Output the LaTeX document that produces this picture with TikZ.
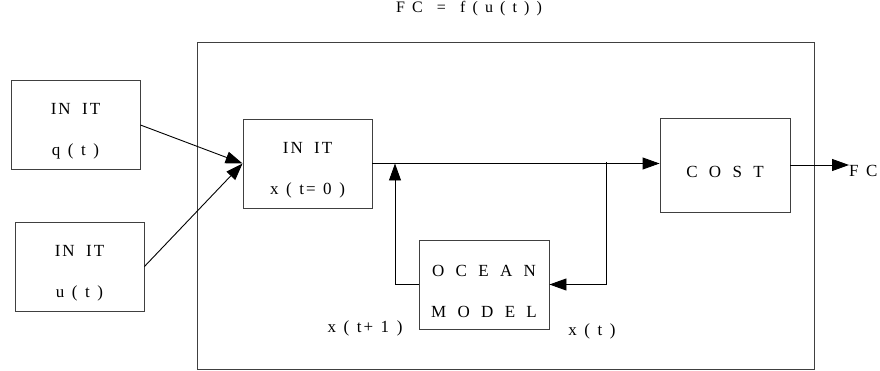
\documentclass[tikz,border=0pt]{standalone}
\usepackage{fontspec}
\setmainfont{Liberation Serif}[LetterSpace=12, WordSpace=1.2]
\newfontfamily\capsfont{Liberation Serif}[LetterSpace=12, WordSpace=1.8]
\usetikzlibrary{arrows.meta}
\tikzset{
  blk/.style={rectangle, draw=black!75, line width=0.9pt,
              minimum width=129pt, minimum height=89pt,
              align=center, inner sep=0pt,
              font=\fontsize{17}{41}\selectfont},
  capblk/.style={blk, font=\fontsize{17}{41}\capsfont},
  lbl/.style={inner sep=0pt, font=\fontsize{17}{20}\selectfont},
  arr/.style={-{Triangle[length=17pt, width=12pt]}, line width=0.9pt},
}
\newcommand{\lift}{\rule{0pt}{24.5pt}}

\begin{document}
\begin{tikzpicture}[x=1pt, y=-1pt]
  \useasboundingbox (0,0) rectangle (880,371);

  \node[lbl, font=\fontsize{16}{20}\selectfont] (title) at (469,9) {F C~~=~~f ( u ( t ) )};
  \node[blk, minimum width=617pt, minimum height=327pt] (frame) at (505.5,205.5) {};

  \node[blk] (initq) at (75.5,125) {\lift{\capsfont IN IT}\\q ( t )};
  \node[blk] (initu) at (79.5,266.5) {\lift{\capsfont IN IT}\\u ( t )};
  \node[blk] (initx) at (307.5,163.5) {\lift{\capsfont IN IT}\\x ( t= 0 )};
  \node[capblk, minimum width=130pt, minimum height=94pt] (cost) at (725,165) {\lift C O S T};
  \node[capblk, minimum width=130pt] (ocean) at (484,284.5) {\lift O C E A N\\M O D E L};

  \node[lbl] (xnext) at (365,328) {x ( t+ 1 )};
  \node[lbl] (xnow) at (592,331) {x ( t )};
  \node[lbl, anchor=west] (fc) at (849,171) {F C};

  \coordinate (tap) at (606,162);
  \coordinate (join) at (395,163.5);

  \draw[arr] (initq.east) -- (initx.west);
  \draw[arr] (initu.east) -- (initx.west);
  \draw[arr] (initx.east) -- (cost.west |- initx.east);
  \draw[arr] (tap) |- (ocean.east);
  \draw[arr] (ocean.west) -| (join);
  \draw[arr] (cost.east) -- (fc.west |- cost.east);

\end{tikzpicture}
\end{document}
